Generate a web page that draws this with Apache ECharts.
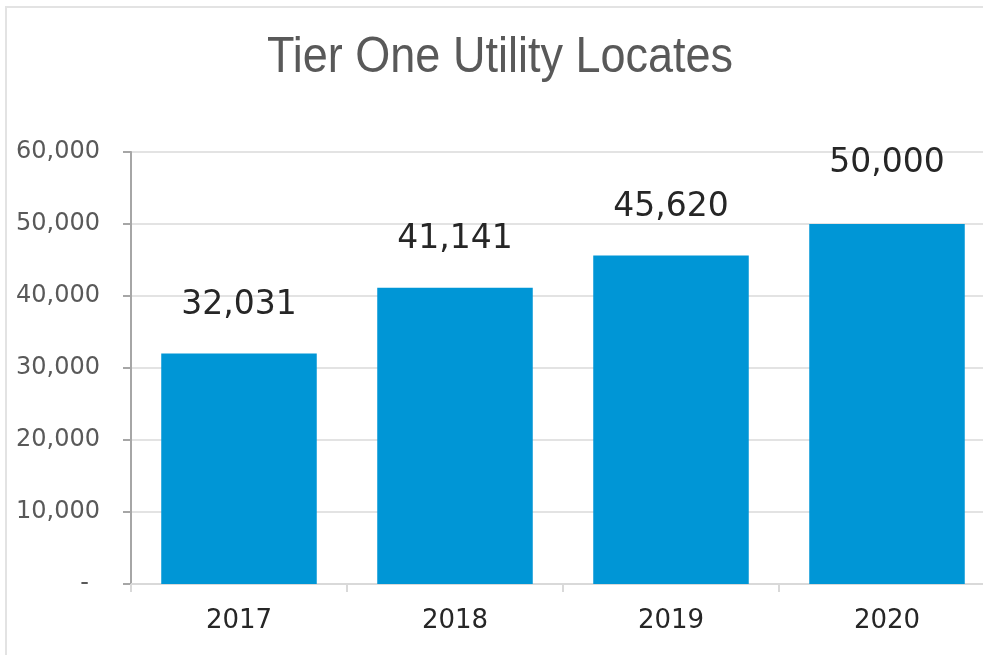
<!DOCTYPE html>
<html>
<head>
<meta charset="utf-8">
<style>html,body{margin:0;padding:0;background:#fff}#c{width:983px;height:655px}</style>
<script src="https://cdn.jsdelivr.net/npm/echarts@6/dist/echarts.min.js"></script>
</head>
<body>
<div id="c"></div>
<script>
const titleText = "Tier One Utility Locates";
const categories = ["2017", "2018", "2019", "2020"];
const values = [32031, 41141, 45620, 50000];
const yTicks = [0, 10000, 20000, 30000, 40000, 50000, 60000];

const chart = echarts.init(document.getElementById('c'), null, {renderer: 'canvas'});
const fmt = v => v.toLocaleString('en-US');
const data = values.map((v, i) => ({
  value: v,
  label: i === values.length - 1 ? {offset: [0, -13]} : {}
}));
chart.setOption({
  animation: false,
  graphic: [{
    type: 'polyline', silent: true,
    shape: {points: [[6, 660], [6, 7], [990, 7]]},
    style: {stroke: '#e3e3e3', lineWidth: 2, fill: null}
  }, {
    type: 'text', silent: true,
    x: 500, y: 58, scaleX: 0.9,
    style: {
      text: titleText, fill: '#595959',
      font: '50px "Liberation Sans", Arial, sans-serif',
      align: 'center', verticalAlign: 'middle'
    }
  }],
  grid: {left: 131, top: 152, width: 864, bottom: 71, containLabel: false, outerBoundsMode: 'none'},
  xAxis: {
    type: 'category', data: categories,
    axisLine: {lineStyle: {color: '#d9d9d9', width: 2}},
    axisTick: {show: true, length: 8, lineStyle: {color: '#d9d9d9', width: 2}},
    axisLabel: {fontFamily: 'DejaVu Sans', fontSize: 26, color: '#262626', margin: 24}
  },
  yAxis: {
    type: 'value', min: yTicks[0], max: yTicks[yTicks.length - 1], interval: 10000,
    axisLine: {show: true, lineStyle: {color: '#a6a6a6', width: 2}},
    axisTick: {show: true, length: 8, lineStyle: {color: '#a6a6a6', width: 2}},
    splitLine: {lineStyle: {color: '#e3e3e3', width: 2}},
    axisLabel: {
      fontFamily: 'DejaVu Sans', fontSize: 24, color: '#595959', margin: 31,
      formatter: v => v === 0 ? '{d|-}' : fmt(v),
      rich: {d: {fontFamily: 'DejaVu Sans', fontSize: 24, color: '#595959', padding: [0, 11, 0, 0]}}
    }
  },
  series: [{
    type: 'bar', data: data, barCategoryGap: '28%',
    itemStyle: {color: '#0096D6'},
    label: {
      show: true, position: 'top', distance: 28,
      fontFamily: 'DejaVu Sans', fontSize: 33, color: '#262626', lineHeight: 40,
      formatter: p => fmt(p.value)
    }
  }]
});
</script>
</body>
</html>
